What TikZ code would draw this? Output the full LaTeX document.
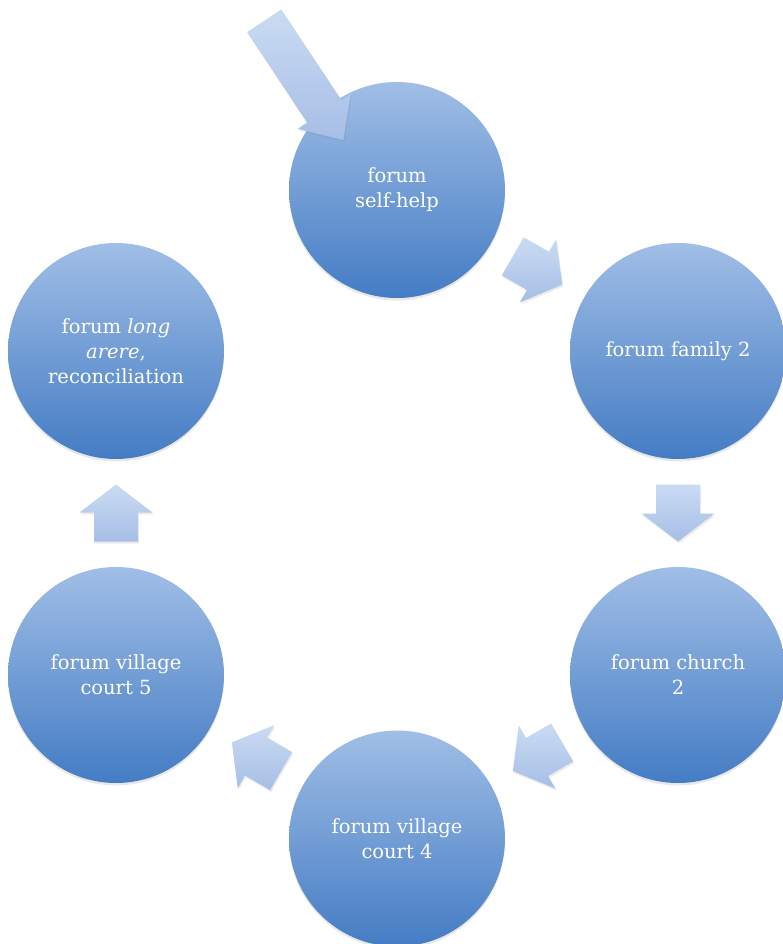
\documentclass[tikz,border=0pt]{standalone}
\usepackage{fontspec}
\setmainfont{DejaVu Serif}
\usetikzlibrary{calc,shadows}
\definecolor{circtop}{RGB}{160,190,230}
\definecolor{circmid}{RGB}{125,162,216}
\definecolor{circbot}{RGB}{68,124,196}
\definecolor{arrtop}{RGB}{202,219,243}
\definecolor{arrbot}{RGB}{166,190,230}
\tikzset{
  circ/.style={circle, minimum size=216pt, inner sep=0pt, align=center,
    top color=circtop, middle color=circmid, bottom color=circbot,
    text=white, font=\fontsize{19.5}{25}\selectfont,
    drop shadow={opacity=0.18, shadow xshift=0pt, shadow yshift=-2.5pt}},
  arrowfill/.style={top color=arrtop, bottom color=arrbot,
    drop shadow={opacity=0.15, shadow xshift=1pt, shadow yshift=-2pt}}
}
\newcommand\blockarrow[5]{%
  \coordinate (bN) at ($(#2)!#5!(#1)$);
  \path[arrowfill] ($(#1)!#3!90:(#2)$) -- ($(bN)!#3!90:(#2)$) -- ($(bN)!#4!90:(#2)$) -- (#2)
    -- ($(bN)!#4!-90:(#2)$) -- ($(bN)!#3!-90:(#2)$) -- ($(#1)!#3!-90:(#2)$) -- cycle;}
\newcommand\ringarrow[2]{%
  \coordinate (ta) at ($(#1)!0.5!(#2)!28.5pt!(#1)$);
  \coordinate (tb) at ($(#1)!0.5!(#2)!28.5pt!(#2)$);
  \blockarrow{ta}{tb}{22pt}{36.5pt}{28pt}}
\begin{document}
\begin{tikzpicture}[x=1pt,y=-1pt]
\useasboundingbox (0,0) rectangle (783,944);
\clip (0,0) rectangle (783,944);
\node[circ] (selfhelp) at (397,190) {forum\\self-help};
\node[circ] (family) at (678,351) {forum family 2};
\node[circ] (church) at (678,675) {forum church\\2};
\node[circ] (court4) at (397,838.5) {forum village\\court 4};
\node[circ] (court5) at (116,675) {forum village\\court 5};
\node[circ] (arere) at (116,351) {forum \textit{long}\\\textit{arere},\\reconciliation};
\ringarrow{selfhelp}{family}
\ringarrow{family}{church}
\ringarrow{church}{court4}
\ringarrow{court4}{court5}
\ringarrow{court5}{arere}
\coordinate (inTail) at (264.2,20.8);
\coordinate (inTip) at (343.3,140);
\blockarrow{inTail}{inTip}{20.5pt}{31.7pt}{34.5pt}
\end{tikzpicture}
\end{document}
